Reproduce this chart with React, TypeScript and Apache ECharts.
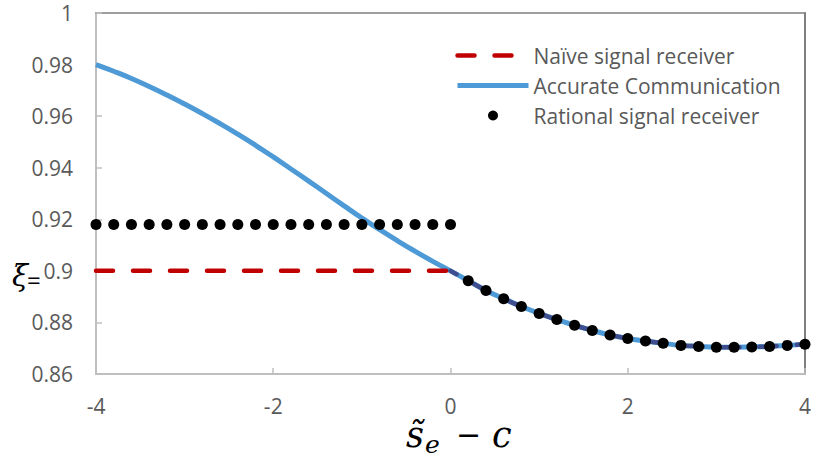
import React, { useEffect, useRef } from "react";
import * as echarts from "echarts";

// ---- data ----
const xValues = [
  -4, -3.8, -3.6, -3.4, -3.2, -3, -2.8, -2.6, -2.4, -2.2, -2, -1.8, -1.6, -1.4, -1.2, -1, -0.8, -0.6, -0.4, -0.2,
  0, 0.2, 0.4, 0.6, 0.8, 1, 1.2, 1.4, 1.6, 1.8, 2, 2.2, 2.4, 2.6, 2.8, 3, 3.2, 3.4, 3.6, 3.8, 4,
];

const accurateValues = [
  0.98, 0.9774, 0.9746, 0.9715, 0.9682, 0.9647, 0.961, 0.9571, 0.953, 0.9487, 0.9442, 0.9395, 0.9348, 0.93,
  0.9252, 0.9205, 0.916, 0.9117, 0.9076, 0.9037, 0.9, 0.8962, 0.8924, 0.8892, 0.8862, 0.8835, 0.8811, 0.8789,
  0.8769, 0.8751, 0.8738, 0.8728, 0.8719, 0.8711, 0.8707, 0.8704, 0.8704, 0.8705, 0.8707, 0.8711, 0.8715,
];

const naiveFlatX = [-4, 0];
const naiveFlatValues = [0.9, 0.9];

const rationalValues = [
  0.918, 0.918, 0.918, 0.918, 0.918, 0.918, 0.918, 0.918, 0.918, 0.918, 0.918, 0.918, 0.918, 0.918, 0.918,
  0.918, 0.918, 0.918, 0.918, 0.918, 0.918, 0.8962, 0.8924, 0.8892, 0.8862, 0.8835, 0.8811, 0.8789, 0.8769,
  0.8751, 0.8738, 0.8728, 0.8719, 0.8711, 0.8707, 0.8704, 0.8704, 0.8705, 0.8707, 0.8711, 0.8715,
];

const seriesNames = ["Naïve signal receiver", "Accurate Communication", "Rational signal receiver"];
const yTicks = { min: 0.86, max: 1, interval: 0.02 };
const xTicks = { min: -4, max: 4, interval: 2 };

const LABEL_COLOR = "#595959";
const AXIS_LIGHT = "#BFBFBF";
const AXIS_DARK = "#7F7F7F";
const RED = "#C00000";
const BLUE = "#4E9AD6";
const SANS = "'Open Sans', 'Noto Sans', sans-serif";
const SERIF = "'DejaVu Serif', serif";

export default function App() {
  const ref = useRef<HTMLDivElement>(null);

  useEffect(() => {
    document.body.style.margin = "0";
    if (!ref.current) return;
    const chart = echarts.init(ref.current, null, { renderer: "svg" });

    const pairs = (xs: number[], ys: number[]) => xs.map((x, i) => [x, ys[i]]);
    const overlayIdx = xValues.findIndex((x) => x >= 0);
    const hiddenSymbol = { color: "rgba(0,0,0,0)", borderWidth: 0, opacity: 0 };

    chart.setOption({
      animation: false,
      backgroundColor: "#ffffff",
      grid: { left: 96, right: 8, top: 13, bottom: 87, containLabel: false },
      legend: {
        data: [
          { name: seriesNames[0], itemStyle: hiddenSymbol, lineStyle: { width: 4.5, color: RED, type: [17, 20], cap: "round" } },
          { name: seriesNames[1], itemStyle: hiddenSymbol, lineStyle: { width: 5, color: BLUE } },
          { name: seriesNames[2], icon: "circle", itemStyle: { color: "#000", opacity: 1 } },
        ],
        orient: "vertical",
        left: 450,
        top: 40,
        itemWidth: 71,
        itemHeight: 10,
        itemGap: 9,
        textStyle: { color: LABEL_COLOR, fontSize: 21, fontFamily: SANS, lineHeight: 20 },
        selectedMode: false,
      },
      xAxis: [
        {
          type: "value",
          min: xTicks.min,
          max: xTicks.max,
          interval: xTicks.interval,
          position: "bottom",
          axisLine: { show: true, onZero: false, lineStyle: { color: AXIS_LIGHT, width: 2 } },
          axisTick: { show: true, inside: true, length: 6, lineStyle: { color: AXIS_LIGHT, width: 1.5 } },
          axisLabel: { color: LABEL_COLOR, fontSize: 21, fontFamily: SANS, margin: 21 },
          splitLine: { show: false },
        },
        {
          type: "value",
          min: xTicks.min,
          max: xTicks.max,
          position: "top",
          axisLine: { show: true, onZero: false, lineStyle: { color: AXIS_DARK, width: 1.5 } },
          axisTick: { show: false },
          axisLabel: { show: false },
          splitLine: { show: false },
        },
      ],
      yAxis: [
        {
          type: "value",
          min: yTicks.min,
          max: yTicks.max,
          interval: yTicks.interval,
          position: "left",
          axisLine: { show: true, onZero: false, lineStyle: { color: AXIS_LIGHT, width: 2 } },
          axisTick: { show: true, inside: true, length: 6, lineStyle: { color: AXIS_LIGHT, width: 1.5 } },
          axisLabel: {
            color: LABEL_COLOR,
            fontSize: 21,
            fontFamily: SANS,
            margin: 23,
            formatter: (v: number) => String(+v.toFixed(2)),
          },
          splitLine: { show: false },
        },
        {
          type: "value",
          min: yTicks.min,
          max: yTicks.max,
          position: "right",
          axisLine: { show: true, onZero: false, lineStyle: { color: AXIS_DARK, width: 2 } },
          axisTick: { show: false },
          axisLabel: { show: false },
          splitLine: { show: false },
        },
      ],
      series: [
        {
          name: seriesNames[1],
          type: "line",
          data: pairs(xValues, accurateValues),
          symbol: "none",
          smooth: true,
          lineStyle: { color: BLUE, width: 5 },
          itemStyle: { color: BLUE },
          z: 2,
        },
        {
          name: "Naïve signal receiver (s > c)",
          type: "line",
          data: pairs(xValues.slice(overlayIdx), accurateValues.slice(overlayIdx)),
          symbol: "none",
          smooth: true,
          lineStyle: { color: "#3F4E8E", width: 4.5, type: [17, 20], cap: "round", dashOffset: 10 },
          z: 3,
        },
        {
          name: seriesNames[0],
          type: "line",
          data: pairs(naiveFlatX, naiveFlatValues),
          symbol: "none",
          lineStyle: { color: RED, width: 4.5, type: [17, 20], cap: "round" },
          itemStyle: { color: RED },
          z: 4,
        },
        {
          name: seriesNames[2],
          type: "scatter",
          data: pairs(xValues, rationalValues),
          symbol: "circle",
          symbolSize: 11,
          itemStyle: { color: "#000000", opacity: 1 },
          z: 5,
        },
      ],
      graphic: [
        { type: "text", x: 12, y: 276, style: { text: "ξ", font: `italic 29px ${SERIF}`, fill: "#000", verticalAlign: "middle" } },
        { type: "text", x: 27, y: 279, style: { text: "=", font: `24px ${SANS}`, fill: "#000", verticalAlign: "middle" } },
        { type: "text", x: 406, y: 435, style: { text: "s\u0303", font: `italic 35px ${SERIF}`, fill: "#000", verticalAlign: "middle" } },
        { type: "text", x: 425, y: 444, style: { text: "e", font: `italic 25px ${SERIF}`, fill: "#000", verticalAlign: "middle" } },
        { type: "text", x: 456, y: 434, style: { text: "\u2212", font: `30px ${SERIF}`, fill: "#000", verticalAlign: "middle" } },
        { type: "text", x: 492, y: 435, style: { text: "c", font: `italic 35px ${SERIF}`, fill: "#000", verticalAlign: "middle" } },
      ],
    });

    return () => chart.dispose();
  }, []);

  return <div ref={ref} style={{ width: 814, height: 461 }} />;
}
